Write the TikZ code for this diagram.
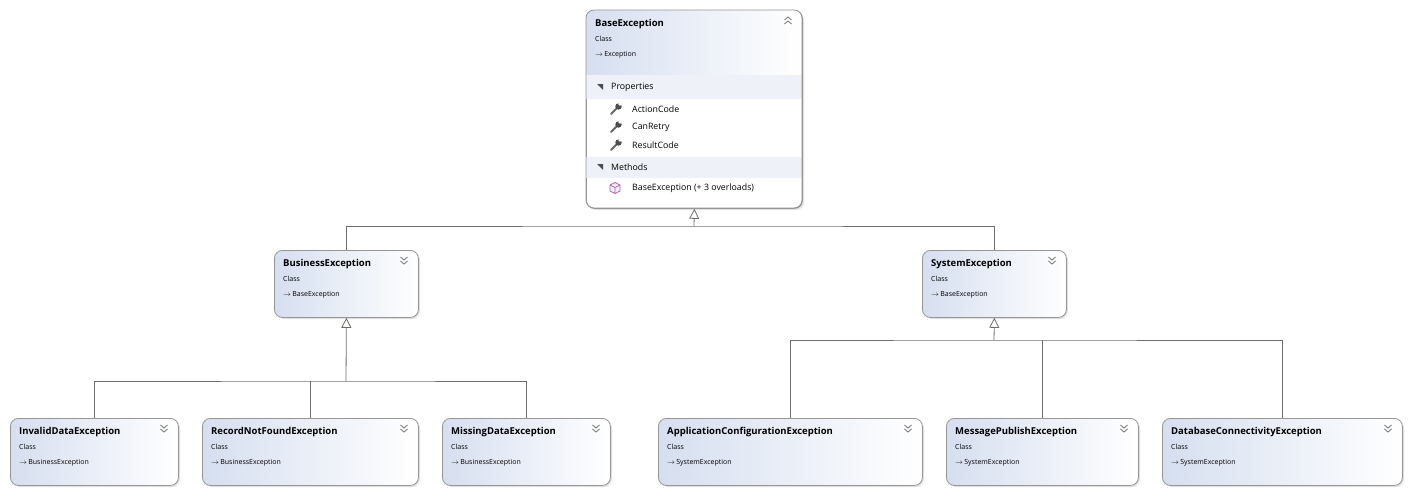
\documentclass[tikz,border=0pt]{standalone}
\usepackage{fontspec}
\setmainfont{Open Sans}
\usetikzlibrary{arrows.meta,positioning}
\definecolor{bord}{RGB}{150,150,150}
\definecolor{hdr}{RGB}{214,223,240}
\definecolor{band}{RGB}{238,241,248}
\definecolor{lin}{RGB}{110,110,105}
\tikzset{x=1pt,y=-1pt,
  cls/.style={draw=bord,rounded corners=8pt,line width=0.8pt,inner sep=0pt,anchor=north west},
  ttl/.style={font=\bfseries\fontsize{9.5}{11}\selectfont,anchor=west,inner sep=0pt},
  sub/.style={font=\fontsize{7}{8}\selectfont,anchor=west,inner sep=0pt},
  itm/.style={font=\fontsize{8.8}{10}\selectfont,anchor=west,inner sep=0pt},
  conn/.style={draw=lin,line width=0.8pt},
  inh/.style={conn,-{Triangle[open,width=10pt,length=10pt,fill=white]}},
  chev/.style={draw=gray,line width=0.9pt}}
\newcommand{\chevdown}[2]{\draw[chev] (#1-3.5,#2-4)--(#1,#2-1)--(#1+3.5,#2-4) (#1-3.5,#2)--(#1,#2+3)--(#1+3.5,#2);}
\newcommand{\chevup}[2]{\draw[chev] (#1-3.5,#2+4)--(#1,#2+1)--(#1+3.5,#2+4) (#1-3.5,#2)--(#1,#2-3)--(#1+3.5,#2);}
% name, x1, y1, width, title, parent
\newcommand{\smallcls}[6]{%
  \fill[black!12,rounded corners=8pt] (#2+2,#3+2) rectangle ++(#4,67);
  \node[cls,left color=hdr,right color=white,minimum width=#4pt,minimum height=67pt] (#1) at (#2,#3) {};
  \node[ttl] (#1-t) at (#2+9,#3+14) {#5};
  \node[sub] (#1-c) at (#2+9,#3+29) {Class};
  \node[sub] (#1-p) at (#2+9,#3+45) {$\rightarrow$\,#6};
  \chevdown{#2+#4-14}{#3+11}}
\newcommand{\wrench}[2]{\draw[gray!80!black,line width=2pt,line cap=round] (#1-4,#2+5)--(#1+3,#2-2);
  \fill[gray!60!black] (#1+3.5,#2-2.5) circle (3.2pt); \fill[white] (#1+5,#2-5) circle (1.8pt);}
\begin{document}
\begin{tikzpicture}
\useasboundingbox (0,0) rectangle (1411,493);
% Base class
\fill[black!12,rounded corners=8pt] (588,12) rectangle (804,210);
\node[cls,fill=white,minimum width=216pt,minimum height=198pt] (base) at (586,10) {};
\begin{scope}
\clip[rounded corners=8pt] (586,10) rectangle (802,208);
\shade[left color=hdr,right color=white] (586,10) rectangle (802,75);
\fill[band] (586,75) rectangle (802,99);
\fill[band] (586,157) rectangle (802,178);
\end{scope}
\draw[draw=bord,rounded corners=8pt,line width=0.8pt] (586,10) rectangle (802,208);
\node[ttl] (base-t) at (595,24) {BaseException};
\node[sub] (base-c) at (595,39) {Class};
\node[sub] (base-p) at (595,55) {$\rightarrow$\,Exception};
\chevup{788}{20}
\fill[black!70] (597,84)--(603,84)--(603,90)--cycle;
\node[itm] (props) at (611,87) {Properties};
\wrench{615}{109}\node[itm] (p1) at (632,109) {ActionCode};
\wrench{615}{127}\node[itm] (p2) at (632,127) {CanRetry};
\wrench{615}{145}\node[itm] (p3) at (632,145) {ResultCode};
\fill[black!70] (597,164)--(603,164)--(603,170)--cycle;
\node[itm] (meth) at (611,167) {Methods};
\draw[draw=violet!60,fill=violet!8,line width=0.7pt] (615,182.5)--(620,185)--(620,191)--(615,193.5)--(610,191)--(610,185)--cycle (610,185)--(615,187.5)--(620,185) (615,187.5)--(615,193.5);
\node[itm] (m1) at (632,188) {BaseException (+ 3 overloads)};
% second level
\smallcls{bus}{274}{250}{144}{BusinessException}{BaseException}
\smallcls{sys}{922}{250}{144}{SystemException}{BaseException}
% third level
\smallcls{inv}{10}{418}{168}{InvalidDataException}{BusinessException}
\smallcls{rec}{202}{418}{216}{RecordNotFoundException}{BusinessException}
\smallcls{mis}{442}{418}{168}{MissingDataException}{BusinessException}
\smallcls{app}{658}{418}{264}{ApplicationConfigurationException}{SystemException}
\smallcls{msg}{946}{418}{192}{MessagePublishException}{SystemException}
\smallcls{db}{1162}{418}{240}{DatabaseConnectivityException}{SystemException}
% connectors
\coordinate (j0) at (694,226);
\coordinate (j1) at (346,381);
\coordinate (j2) at (994,340);
\draw[conn] (bus.north) |- (j0) -| (sys.north);
\draw[inh] (j0) -- (base.south);
\draw[conn] (inv.north) |- (j1) -| (mis.north);
\draw[conn] (rec.north) -- (rec.north |- j1);
\draw[inh] (j1) -- (bus.south);
\draw[conn] (app.north) |- (j2) -| (db.north);
\draw[conn] (msg.north) -- (msg.north |- j2);
\draw[inh] (j2) -- (sys.south);
\end{tikzpicture}
\end{document}
